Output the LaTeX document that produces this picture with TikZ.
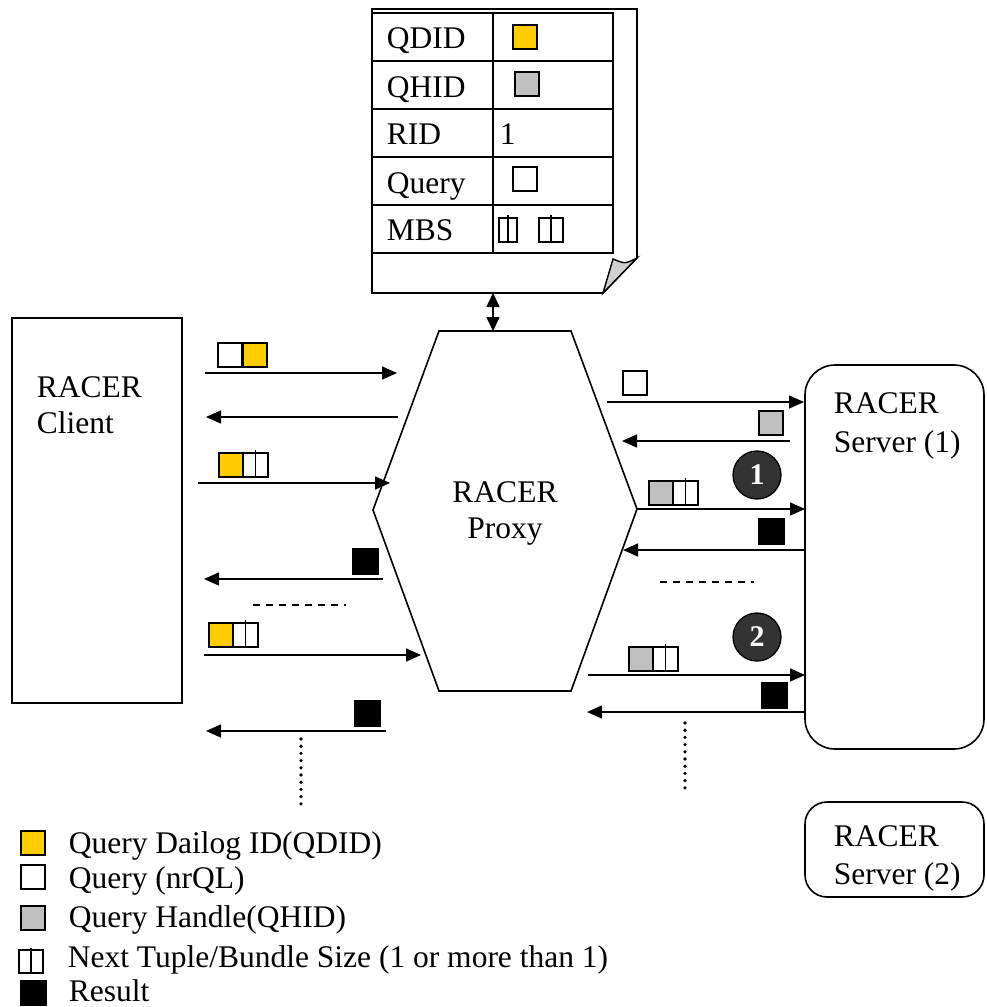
\documentclass[tikz,border=0pt]{standalone}
\usepackage{fontspec}
\setmainfont{Liberation Serif}
\usetikzlibrary{arrows.meta}
\definecolor{qyellow}{HTML}{FFCC00}
\definecolor{qgray}{HTML}{C0C0C0}
\definecolor{curlgray}{HTML}{D0D0D0}
\definecolor{badge}{HTML}{333333}
\newcommand\mysq[3]{\draw[line width=1.3pt,fill=#3] (#1,#2) rectangle ++(24,24);}
\newcommand\mynt[2]{\draw[line width=1.3pt,fill=white] (#1,#2) rectangle ++(25,24);\draw[line width=1.3pt] (#1+12.5,#2-3) -- (#1+12.5,#2+24);}
\begin{document}
\begin{tikzpicture}[x=1pt,y=-1pt,line width=1.6pt,
  txt/.style={anchor=base west,inner sep=0pt,font=\fontsize{31.5}{36}\selectfont},
  ctxt/.style={anchor=base,inner sep=0pt,font=\fontsize{31.5}{36}\selectfont},
  arr/.style={-{Triangle[length=15pt,width=13pt]},line width=1.6pt},
  darr/.style={{Triangle[length=14pt,width=13pt]}-{Triangle[length=14pt,width=13pt]},line width=1.6pt},
  dashline/.style={line width=1.5pt,dash pattern=on 7pt off 6pt},
  dotline/.style={line width=3.6pt,line cap=round,dash pattern=on 0pt off 7.2pt},
  badgenode/.style={circle,fill=badge,draw=black,line width=1.3pt,minimum size=48pt,inner sep=0pt,text=white,font=\fontsize{30}{30}\selectfont\bfseries}]
\useasboundingbox (0,0) rectangle (987,1007);

% ---------- page with table ----------
\draw[line width=1.6pt] (372,9) -- (637,9) -- (637,258) -- (603,293) -- (372,293) -- cycle;
\draw[line width=1.4pt,fill=curlgray] (603,293) -- (613,259) .. controls (625,264) .. (637,258) -- cycle;
\draw[line width=1.6pt] (372,13) rectangle (613,253);
\foreach \yy in {61,109,157,205} \draw[line width=1.6pt] (372,\yy) -- (613,\yy);
\draw[line width=1.6pt] (493,13) -- (493,253);
\node[txt] (tq1) at (386,48) {QDID};
\node[txt] (tq2) at (386,97) {QHID};
\node[txt] (tq3) at (386,144) {RID};
\node[txt] (tq4) at (386,193) {Query};
\node[txt] (tq5) at (386,240) {MBS};
\node[txt] (tv3) at (499,144) {1};
\mysq{513}{25}{qyellow}
\mysq{515}{72}{qgray}
\mysq{513}{167}{white}
\draw[line width=1.3pt] (499,218) rectangle (517,242); \draw[line width=1.3pt] (508,215) -- (508,242);
\draw[line width=1.3pt] (539,218) rectangle (563,242); \draw[line width=1.3pt] (551,215) -- (551,242);

% ---------- proxy hexagon ----------
\coordinate (h1) at (439,331); \coordinate (h2) at (571,331); \coordinate (h3) at (637,509);
\coordinate (h4) at (571,691); \coordinate (h5) at (439,691); \coordinate (h6) at (373,510);
\draw[line width=1.6pt] (h1) -- (h2) -- (h3) -- (h4) -- (h5) -- (h6) -- cycle;
\node[ctxt] (px1) at (505,502) {RACER};
\node[ctxt] (px2) at (505,538) {Proxy};
\coordinate (pgb) at (493,293); \coordinate (hxt) at (493,331);
\draw[darr] (pgb) -- (hxt);

% ---------- client ----------
\draw[line width=1.6pt] (12,318) rectangle (182,703);
\node[txt] (cl1) at (36,397) {RACER};
\node[txt] (cl2) at (36,433) {Client};

% ---------- servers ----------
\draw[line width=1.6pt,rounded corners=30pt] (805,365) rectangle (984,749);
\node[txt] (s11) at (833,413) {RACER};
\node[txt] (s12) at (833,452) {Server (1)};
\draw[line width=1.6pt,rounded corners=22pt] (805,802) rectangle (984,897);
\node[txt] (s21) at (833,846) {RACER};
\node[txt] (s22) at (833,884) {Server (2)};

% ---------- left arrows ----------
\coordinate (a1s) at (205,373); \coordinate (a1e) at (397,373);
\draw[arr] (a1s) -- (a1e);
\mysq{218}{343}{white} \mysq{243}{343}{qyellow}
\coordinate (a2s) at (398,417); \coordinate (a2e) at (206,417);
\draw[arr] (a2s) -- (a2e);
\coordinate (a3s) at (198,483); \coordinate (a3e) at (390,483);
\draw[arr] (a3s) -- (a3e);
\mysq{219}{453}{qyellow} \mynt{243}{453}
\coordinate (a4s) at (383,579); \coordinate (a4e) at (204,579);
\draw[arr] (a4s) -- (a4e);
\draw[line width=1.3pt,fill=black] (353,549) rectangle ++(25,25);
\coordinate (d1s) at (253,605); \coordinate (d1e) at (346,605);
\draw[dashline] (d1s) -- (d1e);
\coordinate (a5s) at (204,655); \coordinate (a5e) at (421,655);
\draw[arr] (a5s) -- (a5e);
\mysq{209}{623}{qyellow} \mynt{233}{623}
\coordinate (a6s) at (386,731); \coordinate (a6e) at (206,731);
\draw[arr] (a6s) -- (a6e);
\draw[line width=1.3pt,fill=black] (355,701) rectangle ++(25,25);
\coordinate (o1s) at (301,739); \coordinate (o1e) at (301,804);
\draw[dotline] (o1s) -- (o1e);

% ---------- right arrows ----------
\coordinate (b1s) at (607,402); \coordinate (b1e) at (804,402);
\draw[arr] (b1s) -- (b1e);
\mysq{623}{371}{white}
\coordinate (b2s) at (790,441); \coordinate (b2e) at (622,441);
\draw[arr] (b2s) -- (b2e);
\mysq{759}{411}{qgray}
\node[badgenode] (n1) at (757,475) {1};
\coordinate (b3s) at (637,509); \coordinate (b3e) at (805,509);
\draw[arr] (b3s) -- (b3e);
\mysq{649}{481}{qgray} \mynt{673}{481}
\coordinate (b4s) at (805,550); \coordinate (b4e) at (623,550);
\draw[arr] (b4s) -- (b4e);
\draw[line width=1.3pt,fill=black] (759,519) rectangle ++(25,25);
\coordinate (d2s) at (660,582); \coordinate (d2e) at (754,582);
\draw[dashline] (d2s) -- (d2e);
\node[badgenode] (n2) at (757,637) {2};
\coordinate (b5s) at (588,675); \coordinate (b5e) at (805,675);
\draw[arr] (b5s) -- (b5e);
\mysq{629}{647}{qgray} \mynt{653}{647}
\coordinate (b6s) at (805,712); \coordinate (b6e) at (587,712);
\draw[arr] (b6s) -- (b6e);
\draw[line width=1.3pt,fill=black] (762,683) rectangle ++(25,25);
\coordinate (o2s) at (685,723); \coordinate (o2e) at (685,789);
\draw[dotline] (o2s) -- (o2e);

% ---------- legend ----------
\mysq{21}{831}{qyellow}
\node[txt] (lg1) at (68,853) {Query Dailog ID(QDID)};
\mysq{21}{865}{white}
\node[txt] (lg2) at (68,888) {Query (nrQL)};
\mysq{21}{906}{qgray}
\node[txt] (lg3) at (68,927) {Query Handle(QHID)};
\draw[line width=1.3pt] (19,950) rectangle (43,973); \draw[line width=1.3pt] (31,948) -- (31,973);
\node[txt] (lg4) at (67,967) {Next Tuple/Bundle Size (1 or more than 1)};
\draw[line width=1.3pt,fill=black] (21,981) rectangle (46,1005);
\node[txt] (lg5) at (68,1001) {Result};
\end{tikzpicture}
\end{document}
